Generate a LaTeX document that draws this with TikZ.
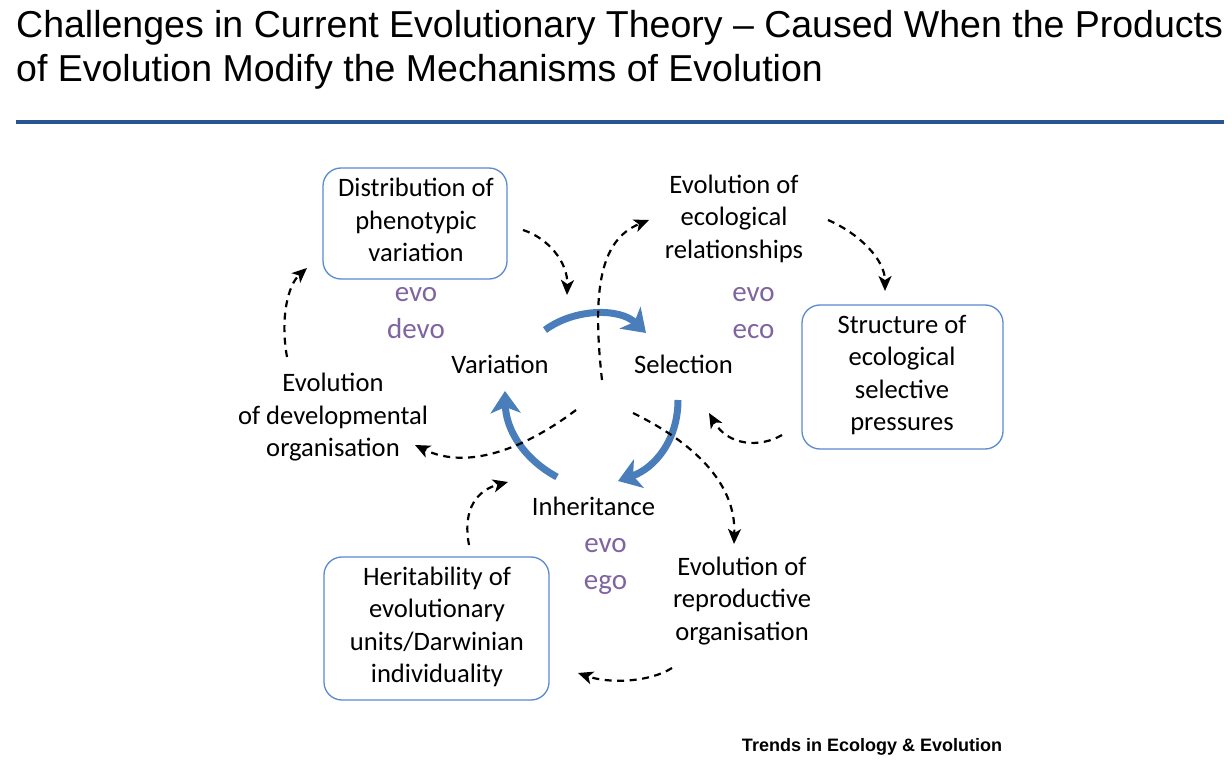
\documentclass[tikz,border=0pt]{standalone}
\usepackage{fontspec}
\setmainfont{Carlito}
\newfontfamily\titlefont{Liberation Sans}
\usetikzlibrary{arrows.meta}
\definecolor{rulecol}{HTML}{2A5490}
\definecolor{boxblue}{HTML}{5A8AD0}
\definecolor{arcblue}{HTML}{4A7EBB}
\definecolor{evopurple}{HTML}{8064A2}
\tikzset{
 box/.style={draw=boxblue, line width=1.3pt, rounded corners=18pt, inner sep=0pt},
 lbl/.style={align=center, inner sep=0pt, anchor=base, font=\fontsize{26.6}{32.5}\selectfont},
 evo/.style={align=center, inner sep=0pt, anchor=base, text=evopurple, font=\fontsize{29}{36.6}\selectfont},
 cyc/.style={draw=arcblue, line width=7pt, -{Stealth[length=22pt,width=30pt,inset=6pt]}},
 dsh/.style={draw=black, line width=2.2pt, dash pattern=on 7pt off 5.5pt, -{Stealth[length=15pt,width=13pt,inset=4pt]}},
 ttl/.style={inner sep=0pt, anchor=base west, font=\titlefont\fontsize{37.5}{44}\selectfont}
}
\begin{document}
\begin{tikzpicture}[x=1pt,y=-1pt]
\useasboundingbox (0,0) rectangle (1232,783);
\fill[white] (0,0) rectangle (1232,783);
% title
\node[ttl] (t1) at (16,38) {Challenges in Current Evolutionary Theory – Caused When the Products};
\node[ttl] (t2) at (16,82) {of Evolution Modify the Mechanisms of Evolution};
\draw[rulecol, line width=4pt] (16,122.5) -- (1224,122.5);
% boxes
\node[box, minimum width=184pt, minimum height=111pt] (b1) at (415,223.5) {};
\node[box, minimum width=201pt, minimum height=144pt] (b2) at (902.5,377) {};
\node[box, minimum width=225pt, minimum height=143pt] (b3) at (436.5,628.5) {};
% texts (anchor = baseline of the last line)
\node[lbl] (b1t) at (416,261.7) {Distribution of\\phenotypic\\variation};
\node[lbl] (b2t) at (902,430.8) {Structure of\\ecological\\selective\\pressures};
\node[lbl] (b3t) at (437,682.5) {Heritability of\\evolutionary\\units/Darwinian\\individuality};
\node[lbl] (var) at (500,373.3) {Variation};
\node[lbl] (sel) at (683.5,373.3) {Selection};
\node[lbl] (inh) at (593.5,515) {Inheritance};
\node[lbl] (eer) at (734,258.3) {Evolution of\\ecological\\relationships};
\node[lbl] (edo) at (333,456.7) {Evolution\\of developmental\\organisation};
\node[lbl] (ero) at (742,640) {Evolution of\\reproductive\\organisation};
\node[evo] (e1) at (416,338.3) {evo\\devo};
\node[evo] (e2) at (753.5,338.3) {evo\\eco};
\node[evo] (e3) at (605.5,589.3) {evo\\ego};
\node[inner sep=0pt, anchor=base, font=\titlefont\bfseries\fontsize{18}{20}\selectfont] (src) at (872,751) {Trends in Ecology \& Evolution};
% cycle arrows
\coordinate (a1s) at (545,330); \coordinate (a1e) at (646,333);
\coordinate (a2s) at (678,400); \coordinate (a2e) at (618,481);
\coordinate (a3s) at (557,477); \coordinate (a3e) at (505,391);
\draw[cyc] (a1s) .. controls (575,308) and (620,308) .. (a1e);
\draw[cyc] (a2s) .. controls (678,440) and (655,468) .. (a2e);
\draw[cyc] (a3s) .. controls (522,458) and (506,428) .. (a3e);
% dashed arrows
\coordinate (d1s) at (523,230); \coordinate (d1e) at (567,295);
\coordinate (d2s) at (287,357); \coordinate (d2e) at (307,268);
\coordinate (d3s) at (576,410); \coordinate (d3e) at (415,445);
\coordinate (d4s) at (602,380); \coordinate (d4e) at (649,220);
\coordinate (d5s) at (828,220); \coordinate (d5e) at (885,291);
\coordinate (d6s) at (782,435); \coordinate (d6e) at (709,413);
\coordinate (d7s) at (633,413); \coordinate (d7e) at (734,544);
\coordinate (d8s) at (672,668); \coordinate (d8e) at (578,673);
\coordinate (d9s) at (469,545); \coordinate (d9e) at (508,482);
\draw[dsh] (d1s) .. controls (548,238) and (568,262) .. (d1e);
\draw[dsh] (d2s) .. controls (280,318) and (288,285) .. (d2e);
\draw[dsh] (d3s) .. controls (530,445) and (470,472) .. (d3e);
\draw[dsh] (d4s) .. controls (592,290) and (600,240) .. (d4e);
\draw[dsh] (d5s) .. controls (860,234) and (885,260) .. (d5e);
\draw[dsh] (d6s) .. controls (760,448) and (728,446) .. (d6e);
\draw[dsh] (d7s) .. controls (692,442) and (736,482) .. (d7e);
\draw[dsh] (d8s) .. controls (650,682) and (610,684) .. (d8e);
\draw[dsh] (d9s) .. controls (462,508) and (478,490) .. (d9e);
\end{tikzpicture}
\end{document}
